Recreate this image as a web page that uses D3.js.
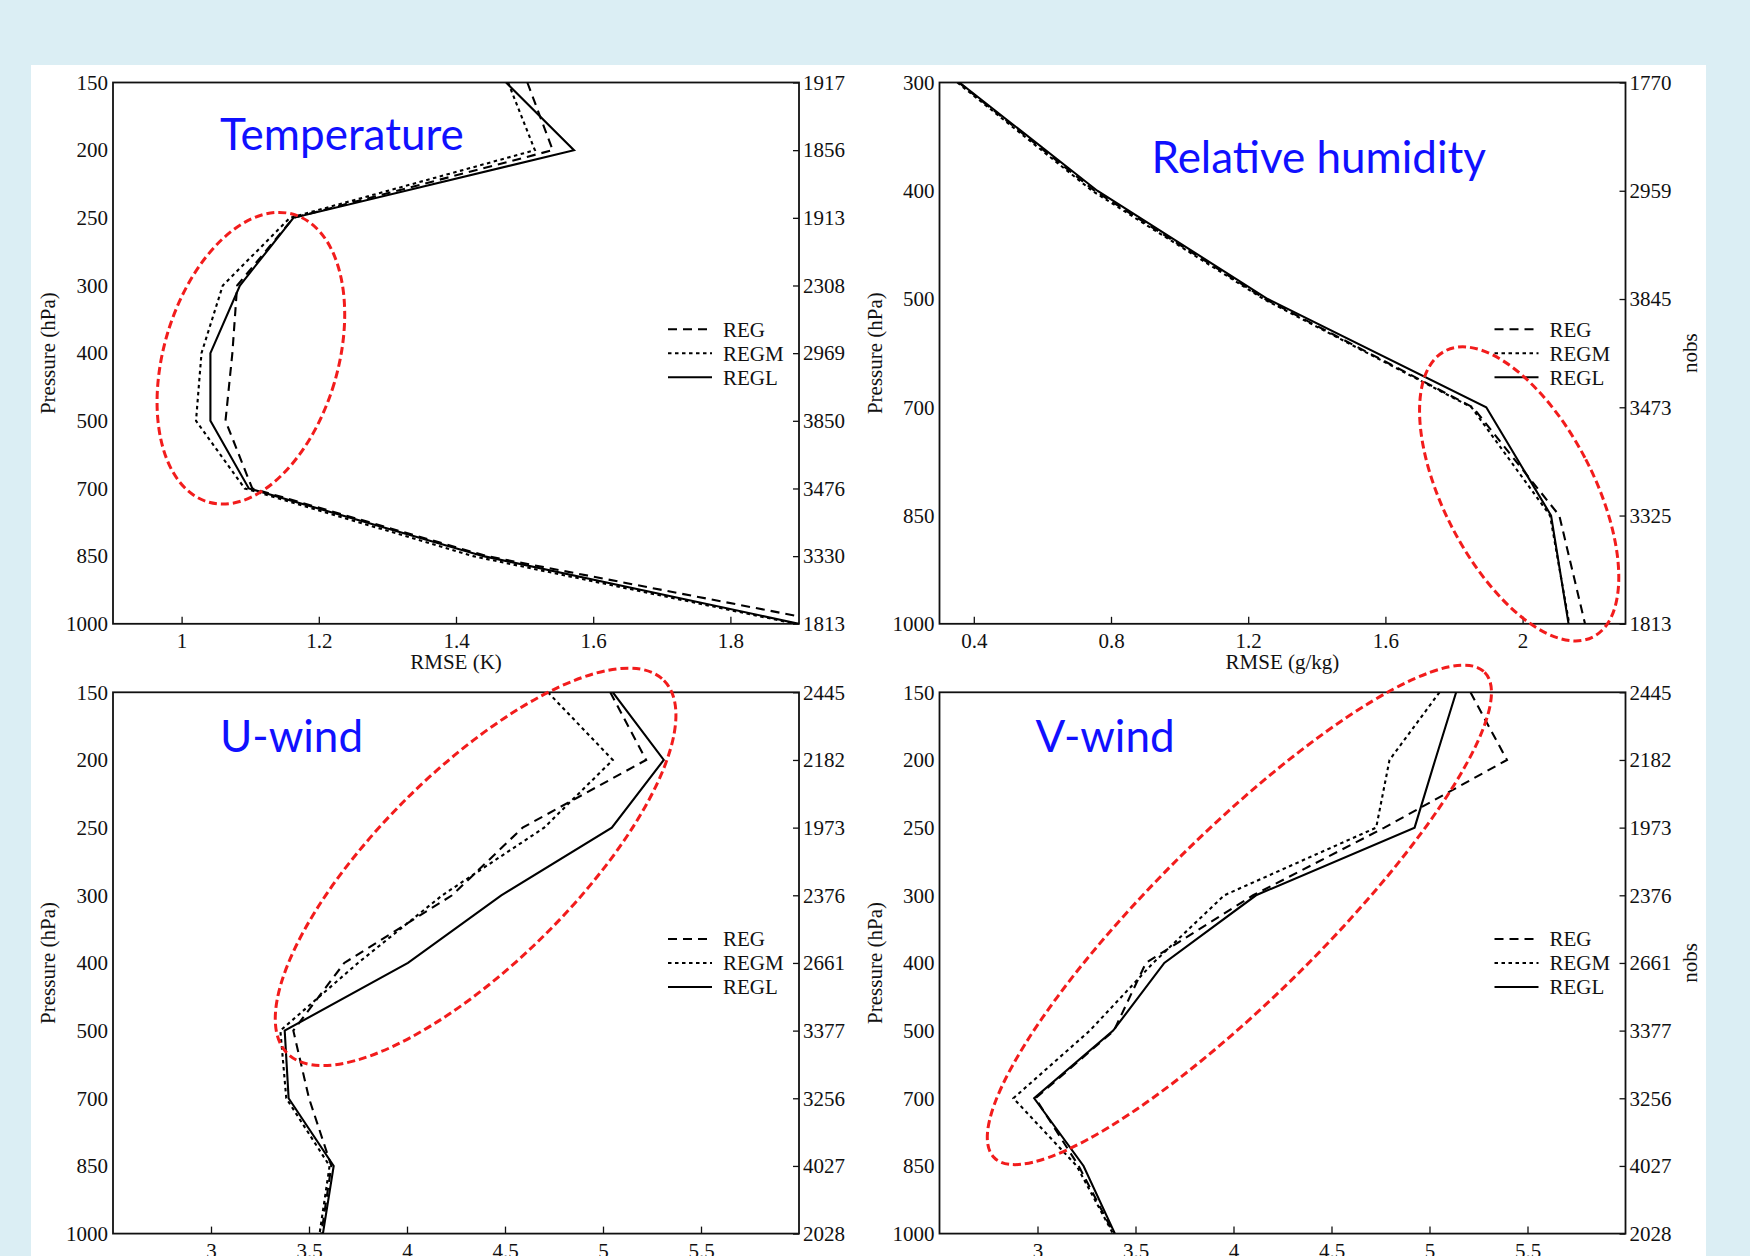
<!DOCTYPE html>
<html>
<head>
<meta charset="utf-8">
<script src="https://cdn.jsdelivr.net/npm/d3@7"></script>
<style>
  html, body { margin: 0; padding: 0; background: #dbeef4; }
  svg { display: block; }
</style>
</head>
<body>
<svg id="chart" width="1750" height="1256"></svg>
<script>
// ---- Temperature ----
const levelsTemp = [150, 200, 250, 300, 400, 500, 700, 850, 1000];
const nobsTemp   = [1917, 1856, 1913, 2308, 2969, 3850, 3476, 3330, 1813];
const tempREG    = [1.504, 1.541, 1.163, 1.081, 1.074, 1.064, 1.103, 1.445, 1.956];
const tempREGM   = [1.476, 1.515, 1.158, 1.060, 1.029, 1.021, 1.092, 1.425, 1.895];
const tempREGL   = [1.473, 1.572, 1.163, 1.085, 1.042, 1.042, 1.098, 1.440, 1.900];
const tempTicks  = [1, 1.2, 1.4, 1.6, 1.8];

// ---- Relative humidity ----
const levelsRH = [300, 400, 500, 700, 850, 1000];
const nobsRH   = [1770, 2959, 3845, 3473, 3325, 1813];
const rhREG    = [0.356, 0.752, 1.250, 1.855, 2.107, 2.182];
const rhREGM   = [0.352, 0.745, 1.245, 1.851, 2.080, 2.136];
const rhREGL   = [0.358, 0.760, 1.257, 1.894, 2.083, 2.134];
const rhTicks  = [0.4, 0.8, 1.2, 1.6, 2];

// ---- Winds ----
const levelsWind = [150, 200, 250, 300, 400, 500, 700, 850, 1000];
const nobsWind   = [2445, 2182, 1973, 2376, 2661, 3377, 3256, 4027, 2028];
const uREG   = [5.037, 5.220, 4.590, 4.230, 3.680, 3.420, 3.500, 3.614, 3.563];
const uREGM  = [4.719, 5.050, 4.700, 4.180, 3.750, 3.354, 3.384, 3.605, 3.554];
const uREGL  = [5.050, 5.310, 5.045, 4.481, 4.005, 3.376, 3.396, 3.626, 3.571];
const vREG   = [5.209, 5.395, 4.770, 4.100, 3.553, 3.390, 2.990, 3.210, 3.390];
const vREGM  = [5.051, 4.796, 4.728, 3.953, 3.590, 3.267, 2.877, 3.200, 3.385];
const vREGL  = [5.136, 5.029, 4.924, 4.115, 3.647, 3.386, 2.983, 3.235, 3.395];
const windTicks = [3, 3.5, 4, 4.5, 5, 5.5];

const seriesNames = ["REG", "REGM", "REGL"];
const seriesDash  = ["9,6", "3.5,3.5", null];

// highlighted regions: centre in data space (value, fractional level index)
const ellipseTemp = { value: 1.101, level: 4.075, rx: 87,  ry: 150, angle: 16.7 };
const ellipseRH   = { value: 1.990, level: 3.800, rx: 75,  ry: 161, angle: -27.4 };
const ellipseU    = { value: 4.350, level: 2.580, rx: 265, ry: 97,  angle: -44.7 };
const ellipseV    = { value: 4.030, level: 3.290, rx: 345, ry: 83,  angle: -44.7 };

const W = 686, H = 541.3;
const panels = [
  { title: "Temperature", levels: levelsTemp, nobs: nobsTemp, series: [tempREG, tempREGM, tempREGL],
    domain: [0.9, 1.9], ticks: tempTicks, xLabel: "RMSE (K)", x0: 113, y0: 82.5,
    tdx: 107, tdy: 67.5, ellipse: ellipseTemp, nobsLabel: false },
  { title: "Relative humidity", levels: levelsRH, nobs: nobsRH, series: [rhREG, rhREGM, rhREGL],
    domain: [0.3, 2.3], ticks: rhTicks, xLabel: "RMSE (g/kg)", x0: 939.5, y0: 82.5,
    tdx: 212, tdy: 90, ellipse: ellipseRH, nobsLabel: true },
  { title: "U-wind", levels: levelsWind, nobs: nobsWind, series: [uREG, uREGM, uREGL],
    domain: [2.5, 6], ticks: windTicks, xLabel: null, x0: 113, y0: 692.3,
    tdx: 107, tdy: 60, ellipse: ellipseU, nobsLabel: false },
  { title: "V-wind", levels: levelsWind, nobs: nobsWind, series: [vREG, vREGM, vREGL],
    domain: [2.5, 6], ticks: windTicks, xLabel: null, x0: 939.5, y0: 692.3,
    tdx: 96, tdy: 60, ellipse: ellipseV, nobsLabel: true }
];

const serif = "'Liberation Serif', 'DejaVu Serif', serif";
const svg = d3.select("#chart");

// white sheet behind the four panels
svg.append("rect").attr("x", 31).attr("y", 65).attr("width", 1675).attr("height", 1191)
  .attr("fill", "#ffffff");

panels.forEach((p, pi) => {
  const x = d3.scaleLinear().domain(p.domain).range([p.x0, p.x0 + W]);
  const y = d3.scalePoint().domain(p.levels).range([p.y0, p.y0 + H]).padding(0);
  const yFrac = t => p.y0 + t * y.step();
  const g = svg.append("g");

  const clipId = "clip" + pi;
  svg.append("clipPath").attr("id", clipId).append("rect")
    .attr("x", p.x0).attr("y", p.y0).attr("width", W).attr("height", H);

  // axes
  const styleAxis = sel => {
    sel.select(".domain").remove();
    sel.selectAll("text").attr("font-family", serif).attr("font-size", 21).attr("fill", "#111");
    sel.selectAll("line").attr("stroke", "#111").attr("stroke-width", 1.3);
  };
  g.append("g").attr("transform", `translate(${p.x0},0)`)
    .call(d3.axisLeft(y).tickSize(0).tickPadding(5)).call(styleAxis);
  g.append("g").attr("transform", `translate(${p.x0 + W},0)`)
    .call(d3.axisRight(y).tickSizeInner(-6).tickSizeOuter(0).tickPadding(4)
      .tickFormat((d, i) => p.nobs[i])).call(styleAxis);
  g.append("g").attr("transform", `translate(0,${p.y0 + H})`)
    .call(d3.axisBottom(x).tickValues(p.ticks).tickSizeInner(-7).tickSizeOuter(0).tickPadding(9)
      .tickFormat(d => String(d))).call(styleAxis);

  // frame
  g.append("rect").attr("x", p.x0).attr("y", p.y0).attr("width", W).attr("height", H)
    .attr("fill", "none").attr("stroke", "#111").attr("stroke-width", 1.8);

  // axis titles
  if (p.xLabel) {
    g.append("text").attr("x", p.x0 + W / 2).attr("y", p.y0 + H + 45)
      .attr("text-anchor", "middle").attr("font-family", serif).attr("font-size", 21)
      .attr("fill", "#111").text(p.xLabel);
  }
  g.append("text")
    .attr("transform", `translate(${p.x0 - 58},${p.y0 + H / 2}) rotate(-90)`)
    .attr("text-anchor", "middle").attr("font-family", serif).attr("font-size", 21)
    .attr("fill", "#111").text("Pressure (hPa)");
  if (p.nobsLabel) {
    g.append("text")
      .attr("transform", `translate(${p.x0 + W + 71},${p.y0 + H / 2}) rotate(-90)`)
      .attr("text-anchor", "middle").attr("font-family", serif).attr("font-size", 21)
      .attr("fill", "#111").text("nobs");
  }

  // profiles
  const line = d3.line().x(d => x(d[0])).y(d => y(d[1]));
  const lines = g.append("g").attr("clip-path", `url(#${clipId})`);
  p.series.forEach((vals, si) => {
    lines.append("path")
      .datum(vals.map((v, i) => [v, p.levels[i]]))
      .attr("d", line)
      .attr("fill", "none").attr("stroke", "#000").attr("stroke-width", 2.1)
      .attr("stroke-linejoin", "miter")
      .attr("stroke-dasharray", seriesDash[si]);
  });

  // legend
  const lg = g.append("g");
  const lx = p.x0 + W - 131, ly = p.y0 + H / 2;
  seriesNames.forEach((name, si) => {
    const yy = ly + (si - 1) * 24;
    lg.append("line").attr("x1", lx).attr("x2", lx + 44).attr("y1", yy).attr("y2", yy)
      .attr("stroke", "#000").attr("stroke-width", 2).attr("stroke-dasharray", seriesDash[si]);
    lg.append("text").attr("x", lx + 55).attr("y", yy).attr("dy", "0.35em")
      .attr("font-family", serif).attr("font-size", 21).attr("fill", "#111").text(name);
  });

  // highlighted region
  const e = p.ellipse;
  g.append("ellipse")
    .attr("transform", `translate(${x(e.value)},${yFrac(e.level)}) rotate(${e.angle})`)
    .attr("rx", e.rx).attr("ry", e.ry)
    .attr("fill", "none").attr("stroke", "#f21c1c").attr("stroke-width", 3)
    .attr("stroke-dasharray", "8,4");

  // panel title
  g.append("text").attr("x", p.x0 + p.tdx).attr("y", p.y0 + p.tdy)
    .attr("font-family", "Lato, 'Open Sans', sans-serif").attr("font-size", 44)
    .attr("fill", "#1010ff").text(p.title);
});
</script>
</body>
</html>
